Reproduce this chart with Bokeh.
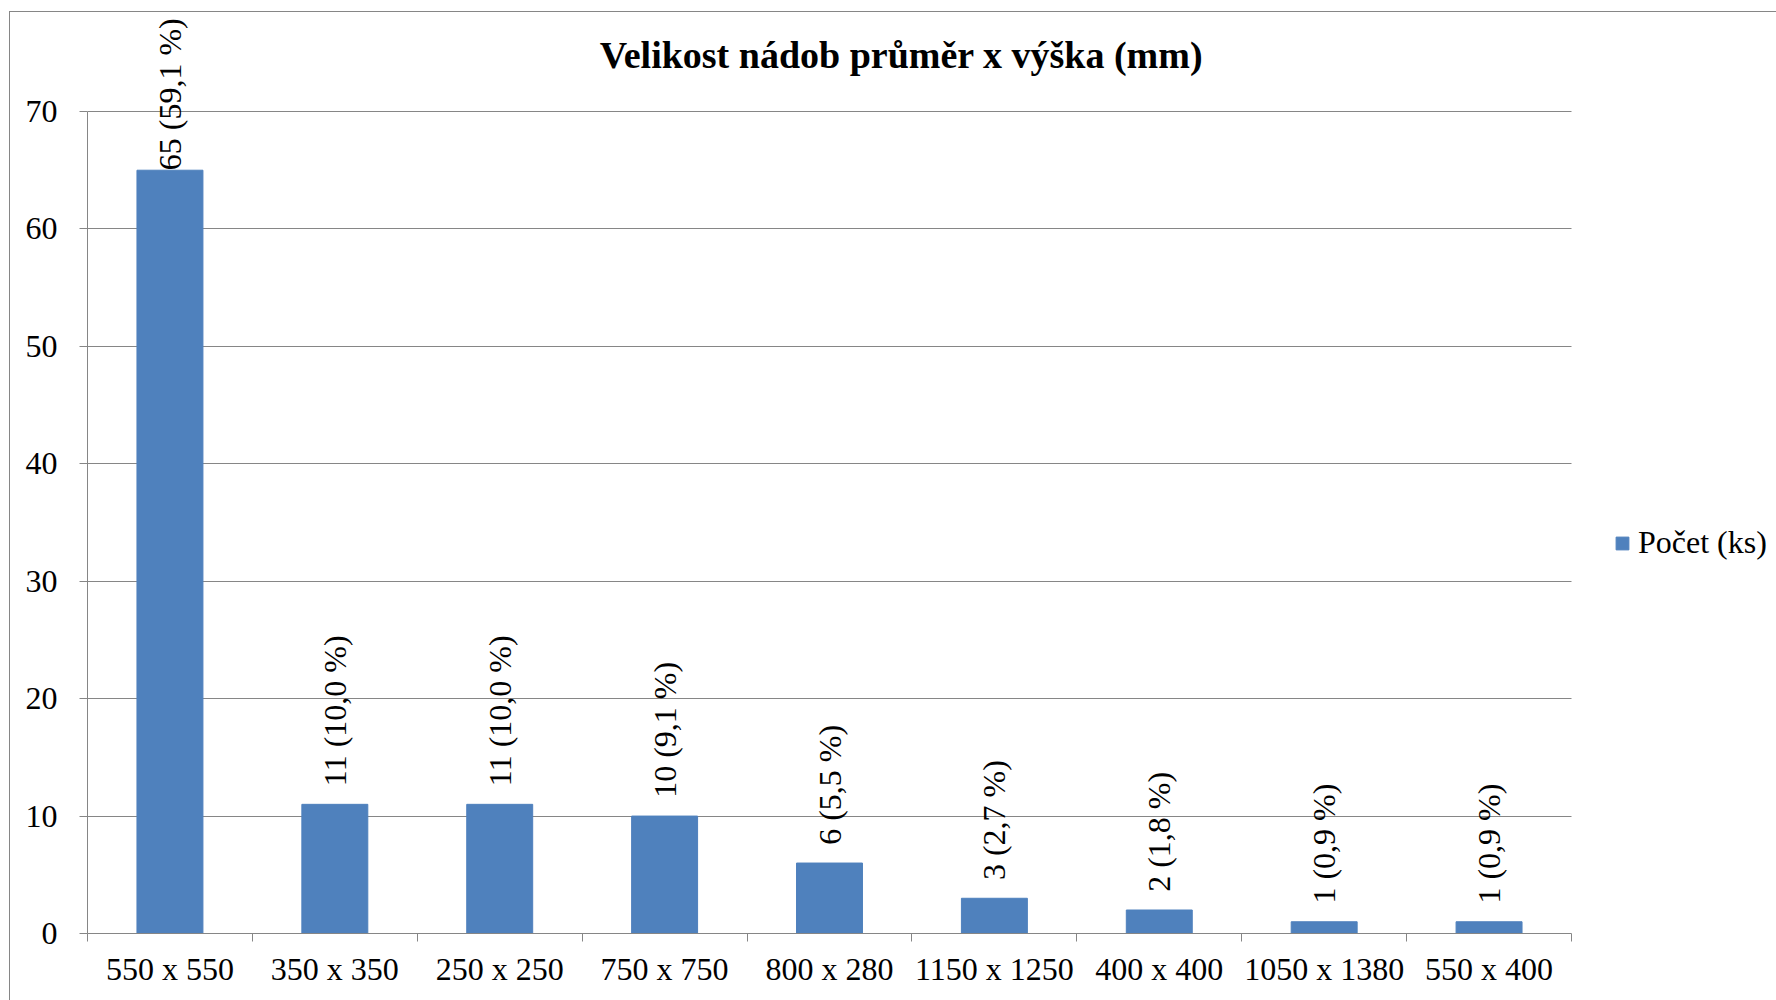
import math
from bokeh.plotting import figure
from bokeh.models import Range1d, FixedTicker, Legend, LegendItem, ColumnDataSource, Label
from bokeh.embed import file_html
from bokeh.resources import INLINE
from bokeh.core.properties import value

# ---- data ----
categories = ["550 x 550", "350 x 350", "250 x 250", "750 x 750", "800 x 280",
              "1150 x 1250", "400 x 400", "1050 x 1380", "550 x 400"]
counts = [65, 11, 11, 10, 6, 3, 2, 1, 1]
percents = ["59,1", "10,0", "10,0", "9,1", "5,5", "2,7", "1,8", "0,9", "0,9"]
y_ticks = [0, 10, 20, 30, 40, 50, 60, 70]
title_text = "Velikost nádob průměr x výška (mm)"
series_name = "Počet (ks)"

# ---- styling ----
FONT = "Liberation Serif"
BAR = "#4F81BD"
GRAY = "#868686"
OX, OY = 9, 11             # page offset of the chart box
W, H = 1776 - OX, 1000 - OY
FL, FT, FB = 86 - OX, 16 - OY, 932 - OY   # frame edges (figure coords)
AX_RIGHT = 1570                            # page x where category axis ends
Y_MAX = 70
PX_PER_UNIT = (932 - 110) / Y_MAX
Y_TOP = (FB - FT) / PX_PER_UNIT

n = len(categories)
PX_PER_CAT = (AX_RIGHT - 86) / n
X_END = (1776 - 86) / PX_PER_CAT
xs = [i + 0.5 for i in range(n)]
labels = [f"{c} ({p} %)" for c, p in zip(counts, percents)]
lbl_y = [min(c + 1.55, 65.0) for c in counts]

src = ColumnDataSource(dict(x=xs, top=counts, lbl=labels, ly=lbl_y))

p = figure(width=W, height=H, x_range=Range1d(0, X_END), y_range=Range1d(0, Y_TOP),
           output_backend="svg", toolbar_location=None,
           min_border_left=FL, min_border_right=0, min_border_top=FT,
           min_border_bottom=H - FB)
p.outline_line_color = None
p.background_fill_color = "white"
p.border_fill_color = "white"
p.styles = {"margin-left": f"{OX}px", "margin-top": f"{OY}px",
            "border-left": f"1px solid {GRAY}", "border-top": f"1px solid {GRAY}"}

bars = p.vbar(x="x", top="top", width=0.4, source=src, fill_color=BAR, line_color=BAR)

p.text(x="x", y="ly", text="lbl", source=src, angle=math.pi / 2,
       text_align="left", text_baseline="middle",
       text_font=value(FONT), text_font_size="32px", text_color="black")

# title
p.add_layout(Label(x=(900 - 86) / PX_PER_CAT, y=(932 - 53) / PX_PER_UNIT,
                   text=title_text, text_align="center", text_baseline="middle",
                   text_font=FONT, text_font_size="38px", text_font_style="bold",
                   text_color="black"))

# y axis
ya = p.yaxis[0]
ya.ticker = FixedTicker(ticks=y_ticks)
ya.bounds = (0, Y_MAX)
ya.axis_line_color = GRAY
ya.major_tick_line_color = GRAY
ya.major_tick_out = 8
ya.major_tick_in = 0
ya.minor_tick_line_color = None
ya.major_label_standoff = 22
ya.major_label_text_font = FONT
ya.major_label_text_font_size = "32px"
ya.major_label_text_color = "black"

# x axis: labels at centers, ticks at boundaries
xa = p.xaxis[0]
xa.ticker = FixedTicker(ticks=xs, minor_ticks=list(range(n + 1)))
xa.bounds = (0, n)
xa.major_label_overrides = {x: c for x, c in zip(xs, categories)}
xa.axis_line_color = GRAY
xa.major_tick_line_color = None
xa.major_tick_out = 0
xa.major_tick_in = 0
xa.minor_tick_line_color = GRAY
xa.minor_tick_out = 8
xa.minor_tick_in = 0
xa.major_label_standoff = 9
xa.major_label_text_font = FONT
xa.major_label_text_font_size = "32px"
xa.major_label_text_color = "black"
xa.major_label_orientation = "horizontal"

p.xgrid.grid_line_color = None
p.ygrid.ticker = FixedTicker(ticks=y_ticks)
p.ygrid.cross_bounds = (0, n)
p.ygrid.grid_line_color = GRAY
p.ygrid.grid_line_width = 1

legend = Legend(items=[LegendItem(label=series_name, renderers=[bars])],
                location=(1613 - 86, 932 - 542 - 18), glyph_width=16, glyph_height=16,
                label_standoff=8, padding=0, margin=0, spacing=0,
                label_text_font=FONT, label_text_font_size="32px",
                label_text_color="black", border_line_color=None,
                background_fill_alpha=0)
p.add_layout(legend, "center")

open("out.html", "w").write(file_html(p, INLINE))
